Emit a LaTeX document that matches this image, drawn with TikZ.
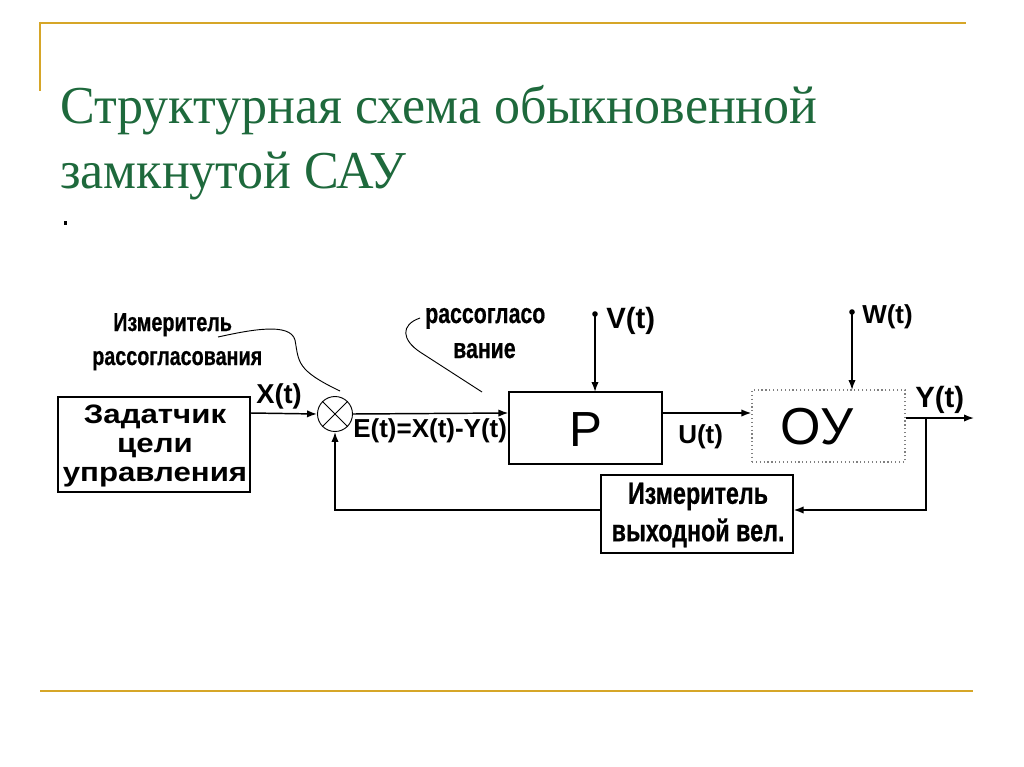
\documentclass[tikz,border=0pt]{standalone}
\usepackage{fontspec}
\setmainfont{Liberation Sans}
\newfontfamily\titlefont[FakeStretch=0.975]{Liberation Serif}
\newfontfamily\boldwide[FakeStretch=1.17]{Liberation Sans Bold}
\newfontfamily\boldnarrow[FakeStretch=0.76,FakeBold=0.6]{Liberation Sans Bold}
\newfontfamily\boldsans{Liberation Sans Bold}
\usetikzlibrary{arrows.meta}
\definecolor{gold}{RGB}{214,166,40}
\definecolor{titlegreen}{RGB}{30,105,60}
\tikzset{
  conn/.style={line width=1.1pt, -{Latex[length=7.5pt,width=5.5pt]}},
  blockbox/.style={draw, line width=0.9pt, inner sep=0pt},
  sig/.style={inner sep=0pt, anchor=base west},
  note/.style={inner sep=0pt, anchor=base west},
  pointer/.style={line width=0.7pt},
  frameline/.style={draw=gold, line width=1.6pt},
  titletext/.style={anchor=base west, inner sep=0pt, text=titlegreen, font=\titlefont\fontsize{40}{48}\selectfont},
}
\newcommand{\sigfont}[1]{\boldsans\fontsize{#1}{#1}\selectfont}
\newcommand{\notefont}[1]{\boldnarrow\fontsize{#1}{#1}\selectfont}
\begin{document}
\begin{tikzpicture}[x=0.75pt,y=-0.75pt]
\useasboundingbox (0,0) rectangle (1024,767);
% frame lines
\draw[frameline] (40,23) -- (966,23);
\draw[frameline] (40,22) -- (40,91);
\draw[frameline] (40,691) -- (973,691);
% title
\node[titletext] (t1) at (60,123) {Структурная схема обыкновенной};
\node[titletext] (t2) at (60,188) {замкнутой САУ};
\fill (63.5,220.5) rectangle (67,224.5);
% blocks
\node[blockbox, minimum width=192*0.75pt, minimum height=95*0.75pt] (zad) at (154,444.5) {};
\node[font=\boldwide\fontsize{20}{21.5}\selectfont, align=center, inner sep=0pt] (zadt) at (155,446) {Задатчик\\цели\\управления};
\node[draw, circle, line width=0.7pt, minimum size=35*0.75pt, inner sep=0pt] (sum) at (335,414) {};
\draw[line width=0.7pt] (sum.north west) -- (sum.south east) (sum.north east) -- (sum.south west);
\node[blockbox, minimum width=153*0.75pt, minimum height=72*0.75pt] (P) at (585.5,428) {};
\node[font=\fontsize{37}{40}\selectfont, inner sep=0pt] (Pt) at (586,430) {Р};
\node[draw=gray, dotted, line width=0.9pt, minimum width=153*0.75pt, minimum height=72*0.75pt, inner sep=0pt] (OY) at (828.5,426) {};
\node[font=\fontsize{39}{42}\selectfont, inner sep=0pt] (OYt) at (817,427) {ОУ};
\node[blockbox, minimum width=192*0.75pt, minimum height=78*0.75pt] (meas) at (697,514) {};
\node[font=\boldnarrow\fontsize{23}{28}\selectfont, align=center, inner sep=0pt] (meast) at (698,515) {Измеритель\\выходной вел.};
% inputs
\coordinate (vdot) at (595,314);
\coordinate (wdot) at (852,312);
\fill (vdot) circle (2.8);
\fill (wdot) circle (2.8);
\draw[conn] (vdot) -- (595,392);
\draw[conn] (wdot) -- (852,390);
% forward path
\draw[conn] (zad.east |- 0,413) -- (sum.west);
\draw[conn] (sum.east) -- (P.west |- 0,413);
\draw[conn] (P.east |- 0,413) -- (OY.west |- 0,413);
\coordinate (yout) at (974,418);
\draw[conn] (OY.east |- 0,418) -- (yout);
\coordinate (tap) at (926,418);
% feedback
\draw[conn] (tap) -- (926,510) -- (meas.east |- 0,510);
\draw[conn] (meas.west |- 0,510) -- (335,510) -- (sum.south);
% labels
\node[sig, font=\sigfont{20.5}] (xl) at (256,403) {X(t)};
\node[sig, font=\sigfont{19.5}] (el) at (353,437) {E(t)=X(t)-Y(t)};
\node[sig, font=\sigfont{22}] (vl) at (606,328) {V(t)};
\node[sig, font=\sigfont{19.5}] (ul) at (678,443) {U(t)};
\node[sig, font=\sigfont{19.5}] (wl) at (862,323) {W(t)};
\node[sig, font=\sigfont{22}] (yl) at (915,407) {Y(t)};
% notes
\node[note, font=\notefont{19.5}] (n1a) at (113,331) {Измеритель};
\node[note, font=\notefont{19.5}] (n1b) at (92,365) {рассогласования};
\node[note, font=\notefont{21}] (n2a) at (425,323) {рассогласо};
\node[note, font=\notefont{21}] (n2b) at (453,358) {вание};
\draw[pointer] (218,337) .. controls (250,330) and (290,322) .. (295,340) .. controls (299,362) and (296,370) .. (340,391);
\draw[pointer] (420,318) .. controls (400,325) and (402,340) .. (420,352) -- (482,392);
\end{tikzpicture}
\end{document}
